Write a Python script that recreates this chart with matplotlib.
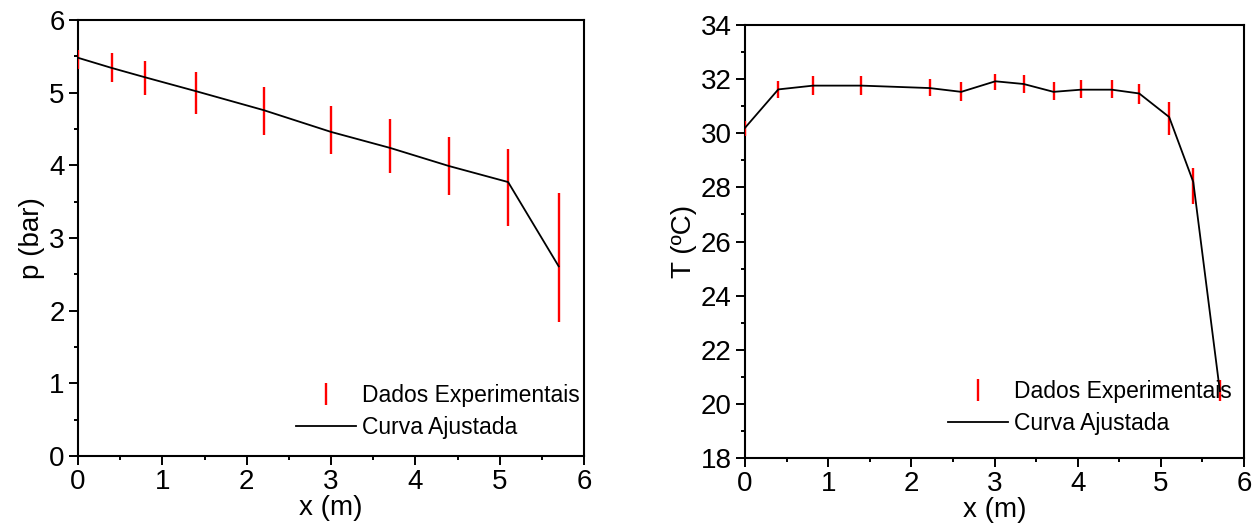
import matplotlib.pyplot as plt
from matplotlib.ticker import MultipleLocator

plt.rcParams['font.family'] = ['Liberation Sans', 'DejaVu Sans']

# pressure profile
x_p = [0.0, 0.4, 0.8, 1.4, 2.2, 3.0, 3.7, 4.4, 5.1, 5.7]
p_exp = [5.46, 5.34, 5.20, 4.99, 4.75, 4.48, 4.27, 3.99, 3.69, 2.73]
p_err = [0.13, 0.20, 0.23, 0.29, 0.33, 0.33, 0.37, 0.40, 0.53, 0.89]
p_fit = [5.48, 5.34, 5.21, 5.02, 4.76, 4.46, 4.24, 3.99, 3.77, 2.61]

# temperature profile
x_t = [0.0, 0.4, 0.82, 1.4, 2.22, 2.6, 3.01, 3.35, 3.71, 4.04, 4.41, 4.74, 5.1, 5.39, 5.71]
t_exp = [30.17, 31.62, 31.76, 31.76, 31.69, 31.55, 31.90, 31.83, 31.55, 31.62, 31.62, 31.45, 30.55, 28.05, 20.50]
t_err = [0.28, 0.31, 0.34, 0.34, 0.33, 0.34, 0.30, 0.34, 0.33, 0.33, 0.33, 0.36, 0.61, 0.65, 0.40]
t_fit = [30.20, 31.62, 31.76, 31.76, 31.67, 31.53, 31.92, 31.82, 31.53, 31.61, 31.61, 31.47, 30.60, 28.20, 20.47]

W, H = 1257, 529
fig = plt.figure(figsize=(W / 100, H / 100), dpi=100)
ax1 = fig.add_axes([78 / W, 1 - 456 / H, 506 / W, 436 / H])
ax2 = fig.add_axes([745 / W, 1 - 458 / H, 499 / W, 433 / H])


def style(ax, ymin, ymax, ymaj, ymin_step):
    ax.set_xlim(0, 6)
    ax.set_ylim(ymin, ymax)
    ax.xaxis.set_major_locator(MultipleLocator(1))
    ax.xaxis.set_minor_locator(MultipleLocator(0.5))
    ax.yaxis.set_major_locator(MultipleLocator(ymaj))
    ax.yaxis.set_minor_locator(MultipleLocator(ymin_step))
    ax.tick_params(which='both', direction='out', width=1.4, labelsize=20)
    ax.tick_params(which='major', length=6.5)
    ax.tick_params(which='minor', length=3)
    ax.tick_params(axis='x', which='major', pad=3)
    ax.tick_params(axis='y', which='major', pad=3)
    for s in ax.spines.values():
        s.set_linewidth(1.5)
    ax.set_xlabel('x (m)', fontsize=20, labelpad=0)


for ax, x, ye, err, yf, lab, leg in [
    (ax1, x_p, p_exp, p_err, p_fit, 'p (bar)', (296, 384)),
    (ax2, x_t, t_exp, t_err, t_fit, 'T (ºC)', (948, 380)),
]:
    eb = ax.errorbar(x, ye, yerr=err, fmt='none', ecolor='red', elinewidth=1.7,
                     capsize=0, label='Dados Experimentais', zorder=3)
    ln, = ax.plot(x, yf, color='black', lw=1.3, label='Curva Ajustada', zorder=4)
    ax.set_ylabel(lab, fontsize=20, labelpad=3)
    ax.legend(handles=[eb, ln], loc='upper left',
              bbox_to_anchor=(leg[0] / W, 1 - leg[1] / H), bbox_transform=fig.transFigure,
              frameon=False, fontsize=16.5, handlelength=2.6, handletextpad=0.3,
              borderpad=0, borderaxespad=0, labelspacing=0.4)

style(ax1, 0, 6, 1, 0.5)
style(ax2, 18, 34, 2, 1)

fig.savefig('out.png', dpi=100)
